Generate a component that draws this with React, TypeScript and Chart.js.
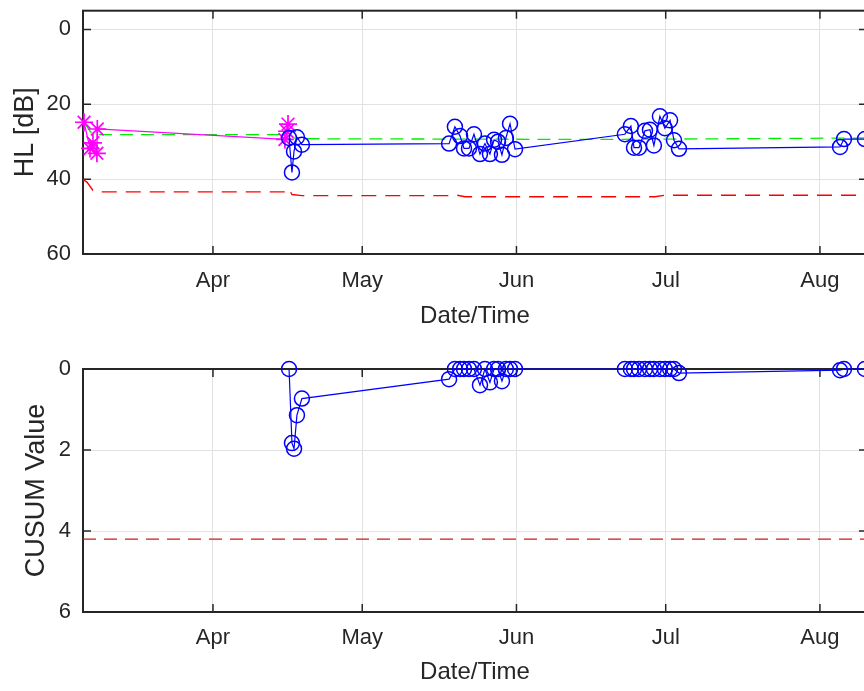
import { useEffect, useRef } from 'react';
import { Chart, registerables } from 'chart.js';

Chart.register(...registerables);

// ---------- data (dates as "MM-DD HH") ----------
const xStart = '03-05 21';
const xEnd = '08-10 11';
const monthTickDates = ['04-01 00', '05-01 00', '06-01 00', '07-01 00', '08-01 00'];
const monthTickLabels = ['Apr', 'May', 'Jun', 'Jul', 'Aug'];

const hlTicks = [0, 20, 40, 60];
const cusumTicks = [0, 2, 4, 6];

// baseline measurements (magenta asterisks)
const baselineDates = ['03-06 02', '03-07 07', '03-07 21', '03-08 16', '03-08 18', '04-15 11', '04-15 21', '04-16 02'];
const baselineHL = [24.8, 31.8, 30.3, 33.1, 26.6, 29.4, 27.2, 25.3];

// running mean (green dashed)
const meanDates = ['03-06 02', '03-07 07', '03-07 21', '03-08 16', '04-15 11', '04-16 02', '04-17 07', '04-18 21', '06-17 19', '08-10 11'];
const meanHL = [24.8, 27.2, 28.0, 28.1, 28.1, 27.6, 29.0, 29.2, 29.4, 29.0];

// limit (red dashed)
const limitDates = ['03-05 21', '03-06 16', '03-07 21', '03-08 16', '04-15 21', '04-16 07', '04-16 21', '04-18 21', '05-18 11', '05-19 15', '05-21 16', '06-28 20', '06-30 20', '08-10 11'];
const limitHL = [40.1, 40.8, 43.0, 43.4, 43.4, 42.7, 44.1, 44.4, 44.4, 44.2, 44.7, 44.7, 44.3, 44.3];

// monitoring measurements (blue circles)
const monitorDates = [
  '04-16 07', '04-16 21', '04-17 07', '04-17 21', '04-18 21',
  '05-18 11', '05-19 15', '05-20 16', '05-21 11', '05-22 11', '05-23 11', '05-24 16', '05-25 16',
  '05-26 16', '05-27 12', '05-28 07', '05-29 02', '05-29 21', '05-30 17', '05-31 17',
  '06-22 19', '06-24 00', '06-24 15', '06-25 15', '06-26 20', '06-27 20', '06-28 15', '06-29 20',
  '06-30 20', '07-01 21', '07-02 16', '07-03 16',
  '08-05 01', '08-05 20', '08-10 01',
];
const monitorHL = [
  29.0, 38.2, 32.6, 28.8, 30.8,
  30.5, 26.0, 28.5, 31.8, 31.8, 28.0, 33.3, 30.5,
  33.3, 29.5, 30.0, 33.5, 29.0, 25.2, 32.0,
  28.0, 25.8, 31.6, 31.6, 27.1, 26.8, 31.0, 23.2,
  26.4, 24.3, 29.6, 31.9,
  31.4, 29.3, 29.3,
];
const monitorCusum = [
  0, 1.83, 1.97, 1.14, 0.73,
  0.25, 0, 0, 0, 0, 0, 0.4, 0,
  0.33, 0, 0, 0.3, 0, 0, 0,
  0, 0, 0, 0, 0, 0, 0, 0,
  0, 0, 0, 0.1,
  0.03, 0, 0,
];
const cusumThreshold = 4.2;

// ---------- helpers ----------
const monthOffsets = [0, 31, 59, 90, 120, 151, 181, 212, 243];
function toDay(s: string): number {
  const [md, hh] = s.split(' ');
  const [m, d] = md.split('-').map(Number);
  return monthOffsets[m - 1] + (d - 1) + (hh ? Number(hh) / 24 : 0);
}
function pts(dates: string[], vals: number[]) {
  return dates.map((d, i) => ({ x: toDay(d), y: vals[i] }));
}

const FONT = "'Liberation Sans', Arial, Helvetica, sans-serif";
const TXT = '#262626';
const W = 880;
const PLOT_RIGHT = 867;

const boxPlugin = {
  id: 'matlabBox',
  beforeDatasetsDraw(chart: any) {
    const { ctx, chartArea: a, scales } = chart;
    const tl = 8;
    ctx.save();
    ctx.strokeStyle = TXT;
    ctx.lineWidth = 1.5;
    ctx.beginPath();
    scales.x.ticks.forEach((t: any) => {
      const px = scales.x.getPixelForValue(t.value);
      ctx.moveTo(px, a.bottom);
      ctx.lineTo(px, a.bottom - tl);
      ctx.moveTo(px, a.top);
      ctx.lineTo(px, a.top + tl);
    });
    scales.y.ticks.forEach((t: any) => {
      const py = scales.y.getPixelForValue(t.value);
      ctx.moveTo(a.left, py);
      ctx.lineTo(a.left + tl, py);
      ctx.moveTo(a.right, py);
      ctx.lineTo(a.right - tl, py);
    });
    ctx.stroke();
    ctx.lineWidth = 2;
    ctx.strokeRect(a.left, a.top, a.right - a.left, a.bottom - a.top);
    ctx.restore();
  },
};

interface Layout {
  height: number;
  top: number;
  bottom: number;
  tickPad: number;
  xTitlePad: number;
  yTitlePad: number;
  yMin: number;
  yMax: number;
  yTicks: number[];
  yTitle: string;
}

function makeOptions(L: Layout): any {
  return {
    responsive: false,
    animation: false,
    devicePixelRatio: 1,
    events: [],
    layout: { padding: { left: 0, right: W - PLOT_RIGHT, top: L.top, bottom: 0 } },
    plugins: { legend: { display: false }, tooltip: { enabled: false }, title: { display: false } },
    scales: {
      x: {
        type: 'linear',
        min: toDay(xStart),
        max: toDay(xEnd),
        afterBuildTicks: (s: any) => {
          s.ticks = monthTickDates.map((d) => ({ value: toDay(d) }));
        },
        afterFit: (s: any) => {
          s.height = L.height - L.bottom;
          s.paddingLeft = 0;
          s.paddingRight = 0;
        },
        ticks: {
          autoSkip: false,
          maxRotation: 0,
          padding: L.tickPad,
          color: TXT,
          font: { family: FONT, size: 22 },
          callback: (v: number) => {
            const i = monthTickDates.findIndex((d) => Math.abs(toDay(d) - v) < 1e-6);
            return i >= 0 ? monthTickLabels[i] : '';
          },
        },
        grid: { color: '#e2e2e2', lineWidth: 1, drawTicks: false },
        border: { display: false },
        title: {
          display: true,
          text: 'Date/Time',
          color: TXT,
          font: { family: FONT, size: 24 },
          padding: { top: 0, bottom: L.xTitlePad },
        },
      },
      y: {
        type: 'linear',
        reverse: true,
        min: L.yMin,
        max: L.yMax,
        afterBuildTicks: (s: any) => {
          s.ticks = L.yTicks.map((v) => ({ value: v }));
        },
        afterFit: (s: any) => {
          s.width = 83;
          s.paddingTop = 0;
          s.paddingBottom = 0;
        },
        ticks: {
          padding: 12,
          color: TXT,
          font: { family: FONT, size: 22 },
          callback: (v: number) => String(v),
        },
        grid: { color: '#e2e2e2', lineWidth: 1, drawTicks: false },
        border: { display: false },
        title: {
          display: true,
          text: L.yTitle,
          color: TXT,
          font: { family: FONT, size: 27 },
          padding: { top: L.yTitlePad, bottom: 0 },
        },
      },
    },
  };
}

export default function App() {
  const topRef = useRef<HTMLCanvasElement | null>(null);
  const botRef = useRef<HTMLCanvasElement | null>(null);

  useEffect(() => {
    document.body.style.margin = '0';
    const xs = toDay(xStart);
    const xe = toDay(xEnd);

    const topChart = new Chart(topRef.current as HTMLCanvasElement, {
      type: 'scatter',
      data: {
        datasets: [
          {
            label: 'Monitoring',
            data: pts(monitorDates, monitorHL),
            showLine: true,
            clip: false,
            borderColor: '#0000ff',
            borderWidth: 1.2,
            pointStyle: 'circle',
            pointRadius: 7.5,
            pointBorderWidth: 1.5,
            pointBorderColor: '#0000ff',
            pointBackgroundColor: 'rgba(0,0,0,0)',
            order: 1,
          },
          {
            label: 'Baseline',
            data: pts(baselineDates, baselineHL),
            showLine: true,
            clip: false,
            borderColor: '#ff00ff',
            borderWidth: 1.2,
            pointStyle: 'star',
            pointRadius: 9,
            pointBorderWidth: 1.7,
            pointBorderColor: '#ff00ff',
            pointBackgroundColor: '#ff00ff',
            order: 2,
          },
          {
            label: 'Mean',
            data: pts(meanDates, meanHL),
            showLine: true,
            borderColor: '#00ee00',
            borderWidth: 1.3,
            borderDash: [13, 8],
            pointRadius: 0,
            order: 3,
          },
          {
            label: 'Limit',
            data: pts(limitDates, limitHL),
            showLine: true,
            borderColor: '#ff0000',
            borderWidth: 1.4,
            borderDash: [15, 9],
            pointRadius: 0,
            order: 4,
          },
        ],
      },
      options: makeOptions({
        height: 345,
        top: 9,
        bottom: 254,
        tickPad: 14,
        xTitlePad: 14.6,
        yTitlePad: 9,
        yMin: -5,
        yMax: 60,
        yTicks: hlTicks,
        yTitle: 'HL [dB]',
      }),
      plugins: [boxPlugin],
    });

    const botChart = new Chart(botRef.current as HTMLCanvasElement, {
      type: 'scatter',
      data: {
        datasets: [
          {
            label: 'CUSUM',
            data: pts(monitorDates, monitorCusum),
            showLine: true,
            clip: false,
            borderColor: '#0000ff',
            borderWidth: 1.2,
            pointStyle: 'circle',
            pointRadius: 7.5,
            pointBorderWidth: 1.5,
            pointBorderColor: '#0000ff',
            pointBackgroundColor: 'rgba(0,0,0,0)',
            order: 1,
          },
          {
            label: 'Threshold',
            data: [
              { x: xs, y: cusumThreshold },
              { x: xe, y: cusumThreshold },
            ],
            showLine: true,
            borderColor: '#c81e1e',
            borderWidth: 1.3,
            borderDash: [13, 8],
            pointRadius: 0,
            order: 2,
          },
        ],
      },
      options: makeOptions({
        height: 346,
        top: 24,
        bottom: 267,
        tickPad: 13,
        xTitlePad: 4.6,
        yTitlePad: 20,
        yMin: 0,
        yMax: 6,
        yTicks: cusumTicks,
        yTitle: 'CUSUM Value',
      }),
      plugins: [boxPlugin],
    });

    return () => {
      topChart.destroy();
      botChart.destroy();
    };
  }, []);

  return (
    <div
      style={{
        position: 'fixed',
        left: 0,
        top: 0,
        width: 864,
        height: 691,
        overflow: 'hidden',
        background: '#ffffff',
      }}
    >
      <canvas ref={topRef} width={W} height={345} style={{ display: 'block' }} />
      <canvas ref={botRef} width={W} height={346} style={{ display: 'block' }} />
    </div>
  );
}
